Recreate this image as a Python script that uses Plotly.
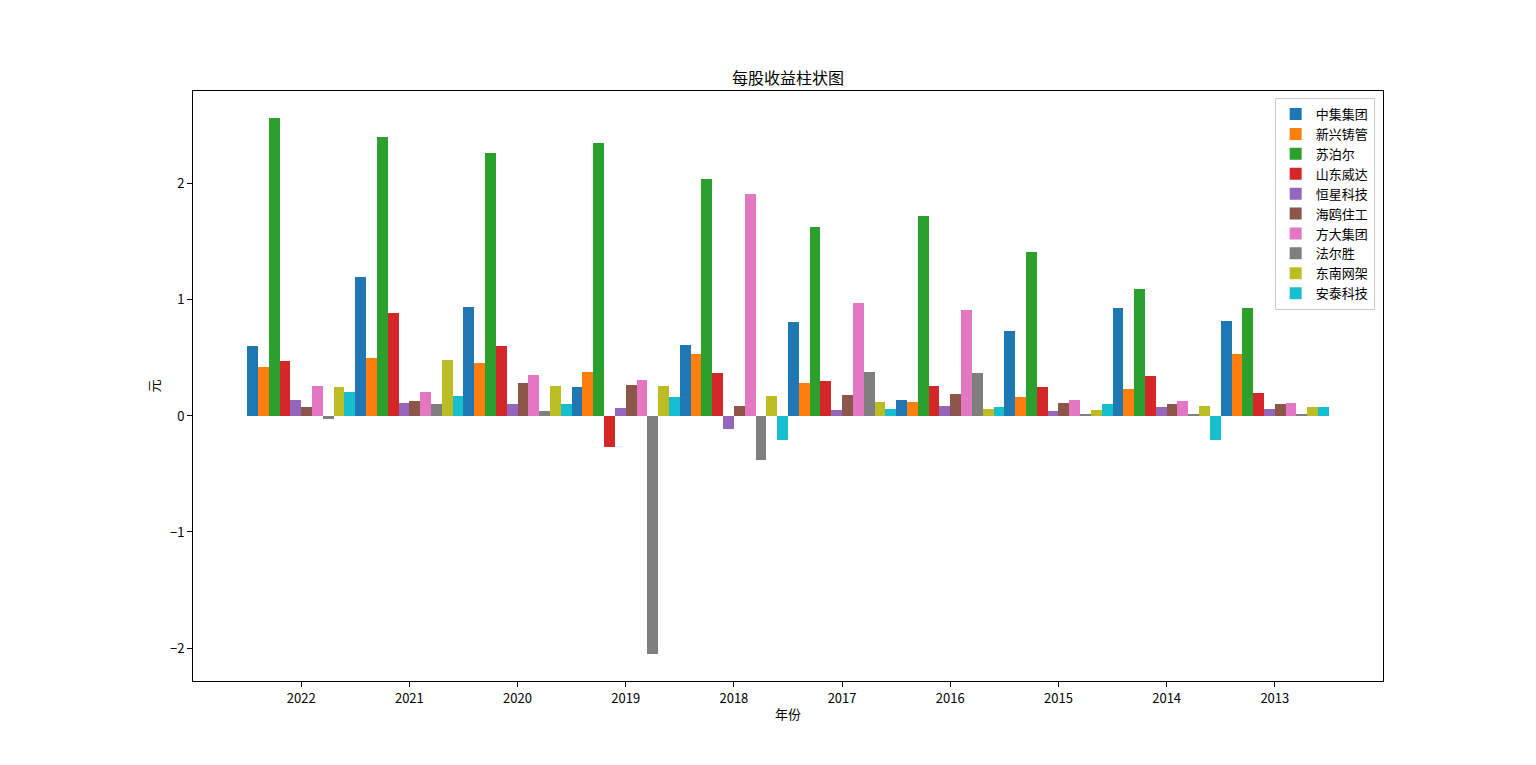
import plotly.graph_objects as go

years = ["2022", "2021", "2020", "2019", "2018", "2017", "2016", "2015", "2014", "2013"]
names = ["中集集团", "新兴铸管", "苏泊尔", "山东威达", "恒星科技", "海鸥住工", "方大集团", "法尔胜", "东南网架", "安泰科技"]
colors = ["#1f77b4", "#ff7f0e", "#2ca02c", "#d62728", "#9467bd", "#8c564b", "#e377c2", "#7f7f7f", "#bcbd22", "#17becf"]

zhongji = [0.60, 1.20, 0.94, 0.25, 0.61, 0.81, 0.14, 0.73, 0.93, 0.82]
xinxing = [0.42, 0.50, 0.46, 0.38, 0.53, 0.28, 0.12, 0.16, 0.23, 0.53]
supor = [2.57, 2.40, 2.27, 2.35, 2.04, 1.63, 1.72, 1.41, 1.09, 0.93]
weida = [0.47, 0.89, 0.60, -0.27, 0.37, 0.30, 0.26, 0.25, 0.34, 0.20]
hengxing = [0.14, 0.11, 0.10, 0.07, -0.11, 0.05, 0.09, 0.04, 0.08, 0.06]
haiou = [0.08, 0.13, 0.28, 0.27, 0.09, 0.18, 0.19, 0.11, 0.10, 0.10]
fangda = [0.26, 0.21, 0.35, 0.31, 1.91, 0.97, 0.91, 0.14, 0.13, 0.11]
faersheng = [-0.03, 0.10, 0.04, -2.05, -0.38, 0.38, 0.37, 0.02, 0.02, 0.02]
dongnan = [0.25, 0.48, 0.26, 0.26, 0.17, 0.12, 0.06, 0.05, 0.09, 0.08]
antai = [0.21, 0.17, 0.10, 0.16, -0.21, 0.06, 0.08, 0.10, -0.21, 0.08]

series = [zhongji, xinxing, supor, weida, hengxing, haiou, fangda, faersheng, dongnan, antai]

font_family = "Noto Sans CJK SC, DejaVu Sans, sans-serif"

fig = go.Figure()
for name, vals, col in zip(names, series, colors):
    fig.add_trace(go.Bar(x=years, y=vals, name=name, marker=dict(color=col, line=dict(width=0))))

fig.update_layout(
    width=1536, height=765,
    margin=dict(l=185, r=161, t=83, b=92),
    paper_bgcolor="white", plot_bgcolor="white",
    barmode="group", bargap=0, bargroupgap=0,
    font=dict(family=font_family, size=13, color="black"),
    title=dict(text="每股收益柱状图", x=0.5, xanchor="center", xref="paper",
               y=1 - 70 / 765, yanchor="middle", font=dict(size=16, color="black")),
    showlegend=True,
    legend=dict(x=0.993, y=0.988, xanchor="right", yanchor="top",
                bordercolor="#cccccc", borderwidth=1, bgcolor="rgba(255,255,255,0.8)",
                font=dict(size=13), tracegroupgap=0, itemsizing="constant"),
    xaxis=dict(type="category", range=[-1, 10], showline=True, linecolor="black", linewidth=1,
               mirror=True, ticks="outside", ticklen=5, tickcolor="black", showgrid=False,
               zeroline=False, tickfont=dict(size=13),
               title=dict(text="年份", font=dict(size=13), standoff=4)),
    yaxis=dict(range=[-2.284, 2.80], dtick=1, tick0=0, showline=True, linecolor="black", linewidth=1,
               mirror=True, ticks="outside", ticklen=5, tickcolor="black", showgrid=False,
               zeroline=False, tickfont=dict(size=13),
               title=dict(text="元", font=dict(size=13), standoff=7)),
)

fig.write_html("out.html")
